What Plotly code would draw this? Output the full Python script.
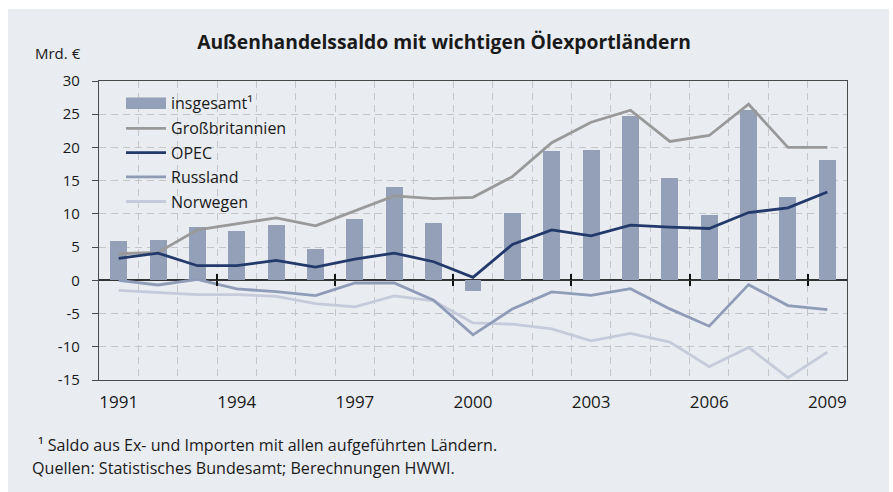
import plotly.graph_objects as go

years = list(range(1991, 2010))
insgesamt = [5.9, 6.0, 8.1, 7.4, 8.3, 4.7, 9.2, 14.0, 8.7, -1.6,
             10.1, 19.4, 19.6, 24.8, 15.4, 9.8, 25.7, 12.6, 18.1]
grossbritannien = [4.0, 4.2, 7.6, 8.5, 9.4, 8.2, 10.4, 12.7, 12.3, 12.5,
                   15.6, 20.7, 23.8, 25.6, 20.9, 21.8, 26.5, 20.0, 20.0]
opec = [3.3, 4.1, 2.2, 2.2, 3.0, 2.0, 3.2, 4.1, 2.8, 0.45,
        5.4, 7.6, 6.7, 8.3, 8.0, 7.8, 10.2, 10.9, 13.3]
russland = [0.0, -0.7, 0.15, -1.3, -1.7, -2.3, -0.4, -0.4, -3.0, -8.2,
            -4.3, -1.75, -2.25, -1.25, -4.3, -6.9, -0.65, -3.8, -4.4]
norwegen = [-1.5, -1.8, -2.15, -2.15, -2.4, -3.5, -4.0, -2.35, -3.1, -6.4,
            -6.6, -7.3, -9.1, -8.0, -9.3, -13.0, -10.1, -14.65, -10.8]

x_tick_years = [1991, 1994, 1997, 2000, 2003, 2006, 2009]
x_tick_labels = [str(y) for y in x_tick_years]
y_tick_vals = [-15, -10, -5, 0, 5, 10, 15, 20, 25, 30]
y_tick_labels = ["-15", "-10", "-5", "0", "5", "10", "15", "20", "25", "30"]
zero_ticks = [1993.5, 1996.5, 1999.5, 2002.5, 2005.5, 2008.5]

series_names = ["insgesamt¹", "Großbritannien", "OPEC", "Russland", "Norwegen"]
colors = {"insgesamt¹": "#94a0b8", "Großbritannien": "#999999", "OPEC": "#24396b",
          "Russland": "#8f9cb7", "Norwegen": "#c5cbda"}

title_text = "Außenhandelssaldo mit wichtigen Ölexportländern"
unit_text = "Mrd. €"
note1 = "¹ Saldo aus Ex- und Importen mit allen aufgeführten Ländern."
note2 = "Quellen: Statistisches Bundesamt; Berechnungen HWWI."

FONT = "Open Sans"
TXT = "#1a1a1a"
BG = "#e9ecf1"
AX = "#4a4a4a"
GRID = "#c4c6ca"
DASH = "7px,5px"

W, H = 893, 492
L, R, T, B = 99, 46, 81, 112
PW, PH = W - L - R, H - T - B


def px(xp):
    return (xp - L) / PW


def py(yp):
    return (H - B - yp) / PH


fig = go.Figure()
fig.add_trace(go.Bar(x=years, y=insgesamt, width=0.43, marker_color=colors["insgesamt¹"],
                     marker_line_width=0, showlegend=False, hoverinfo="skip"))
for name, vals in [("Norwegen", norwegen), ("Russland", russland),
                   ("Großbritannien", grossbritannien), ("OPEC", opec)]:
    fig.add_trace(go.Scatter(x=years, y=vals, mode="lines",
                             line=dict(color=colors[name], width=2.8),
                             showlegend=False, hoverinfo="skip"))
# dummy traces for zero-line tick axes
fig.add_trace(go.Scatter(x=[None], y=[None], xaxis="x2", yaxis="y", showlegend=False, hoverinfo="skip"))
fig.add_trace(go.Scatter(x=[None], y=[None], xaxis="x3", yaxis="y", showlegend=False, hoverinfo="skip"))

xr = [1990.5, 2009.5]
fig.update_layout(
    width=W, height=H,
    margin=dict(l=L, r=R, t=T, b=B),
    paper_bgcolor="white", plot_bgcolor=BG,
    font=dict(family=FONT, color=TXT),
    bargap=0,
    xaxis=dict(range=xr, tickmode="array", tickvals=x_tick_years, ticktext=x_tick_labels,
               ticks="", showgrid=False, zeroline=False,
               showline=True, mirror=True, linecolor=AX, linewidth=1.3,
               tickfont=dict(size=17, color=TXT), ticklabelstandoff=6,
               minor=dict(tick0=1990.5, dtick=1, showgrid=True, gridcolor=GRID,
                          griddash=DASH, gridwidth=1, ticks="")),
    xaxis2=dict(range=xr, overlaying="x", anchor="free", position=1/3, side="bottom",
                tickmode="array", tickvals=zero_ticks, ticks="outside", ticklen=5,
                tickcolor="#111", tickwidth=1.5, showticklabels=False, showgrid=False,
                zeroline=False, showline=False),
    xaxis3=dict(range=xr, overlaying="x", anchor="free", position=1/3, side="top",
                tickmode="array", tickvals=zero_ticks, ticks="outside", ticklen=6,
                tickcolor="#111", tickwidth=1.5, showticklabels=False, showgrid=False,
                zeroline=False, showline=False),
    yaxis=dict(range=[-15, 30], tickmode="array", tickvals=y_tick_vals, ticktext=y_tick_labels,
               ticks="outside", ticklen=6, tickcolor=AX, tickwidth=1,
               showgrid=True, gridcolor=GRID, griddash=DASH, gridwidth=1,
               zeroline=True, zerolinecolor="#333", zerolinewidth=1.5,
               showline=True, mirror=True, linecolor=AX, linewidth=1.3,
               tickfont=dict(size=15, color=TXT), ticklabelstandoff=9),
    title=dict(text=title_text, x=444 / W, xanchor="center", y=1 - 42 / H, yanchor="middle",
               yref="container", xref="container",
               font=dict(family=FONT, size=19.3, color=TXT, weight="bold")),
)

shapes = [dict(type="rect", xref="paper", yref="paper", x0=px(8), x1=px(889), y0=py(492), y1=py(9),
               fillcolor=BG, line_width=0, layer="below")]
# legend symbols
shapes.append(dict(type="rect", xref="paper", yref="paper", x0=px(126), x1=px(166),
                   y0=py(109), y1=py(97.5), fillcolor=colors["insgesamt¹"], line_width=0))
leg_y = [103, 128.3, 152.7, 176.8, 201.5]
for name, yy in zip(series_names[1:], leg_y[1:]):
    shapes.append(dict(type="line", xref="paper", yref="paper", x0=px(126), x1=px(166),
                       y0=py(yy), y1=py(yy), line=dict(color=colors[name], width=2.8)))
fig.update_layout(shapes=shapes)

ann = []
for name, yy in zip(series_names, leg_y):
    ann.append(dict(text=name, xref="paper", yref="paper", x=px(169), y=py(yy),
                    xanchor="left", yanchor="middle", showarrow=False,
                    font=dict(size=16, color=TXT)))
ann.append(dict(text=unit_text, xref="paper", yref="paper", x=px(33), y=py(53),
                xanchor="left", yanchor="middle", showarrow=False, font=dict(size=15, color=TXT)))
ann.append(dict(text=note1, xref="paper", yref="paper", x=px(36), y=py(445),
                xanchor="left", yanchor="middle", showarrow=False, font=dict(size=16.1, color=TXT)))
ann.append(dict(text=note2, xref="paper", yref="paper", x=px(30), y=py(468),
                xanchor="left", yanchor="middle", showarrow=False, font=dict(size=16.1, color=TXT)))
fig.update_layout(annotations=ann)

fig.write_html("out.html", config={"displayModeBar": False},
               post_script="document.body.style.margin='0';")
